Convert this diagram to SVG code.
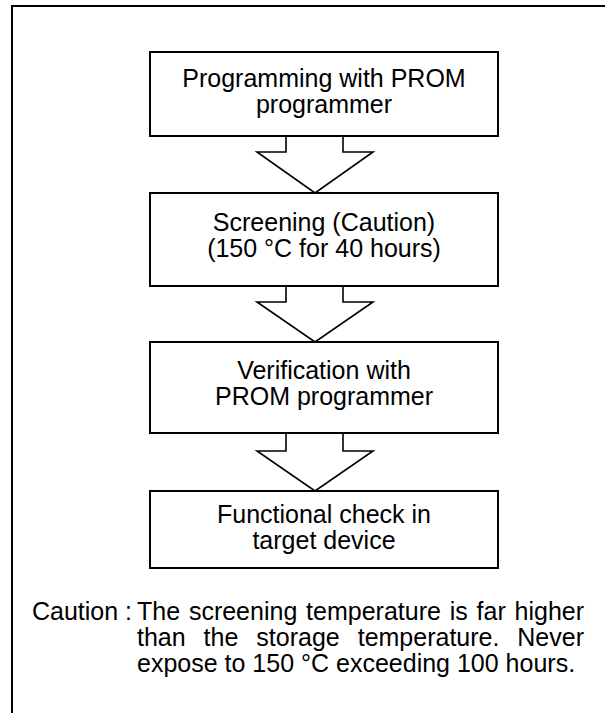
<svg xmlns="http://www.w3.org/2000/svg" width="605" height="713" viewBox="0 0 605 713">
<style>
.box{fill:#fff;stroke:#000;stroke-width:2}
.arr{fill:#fff;stroke:#000;stroke-width:1.6;stroke-linejoin:miter}
.t{font-family:"Liberation Sans",Arial,sans-serif;font-size:25px;fill:#000;text-anchor:middle}
.c{font-family:"Liberation Sans",Arial,sans-serif;font-size:25px;fill:#000}
</style>
<rect width="605" height="713" fill="#fff"/>
<g id="frame">
<path d="M12 713 V6 H605" fill="none" stroke="#000" stroke-width="2"/>
</g>
<g id="connectors">
<polyline class="arr" points="286,136 286,152 257,152 315,193 373,152 343,152 343,136"/>
<polyline class="arr" points="286,286 286,302 257,302 315,342 373,302 343,302 343,286"/>
<polyline class="arr" points="286,433 286,451 257,451 315,491 373,451 343,451 343,433"/>
</g>
<g id="node1">
<rect class="box" x="150" y="52" width="348" height="84"/>
<text class="t" x="324" y="87">Programming with PROM</text>
<text class="t" x="324" y="113">programmer</text>
</g>
<g id="node2">
<rect class="box" x="150" y="193" width="348" height="93"/>
<text class="t" x="324" y="231">Screening (Caution)</text>
<text class="t" x="324" y="257">(150 °C for 40 hours)</text>
</g>
<g id="node3">
<rect class="box" x="150" y="342" width="348" height="91"/>
<text class="t" x="324" y="379">Verification with</text>
<text class="t" x="324" y="405">PROM programmer</text>
</g>
<g id="node4">
<rect class="box" x="150" y="491" width="348" height="77"/>
<text class="t" x="324" y="523">Functional check in</text>
<text class="t" x="324" y="549">target device</text>
</g>
<g id="caution">
<text class="c" x="32" y="620">Caution :</text>
<text class="c" y="620"><tspan x="137">The</tspan><tspan x="188.9">screening</tspan><tspan x="306.1">temperature</tspan><tspan x="449.7">is</tspan><tspan x="476.6">far</tspan><tspan x="514.6">higher</tspan></text>
<text class="c" y="646"><tspan x="137">than</tspan><tspan x="203.6">the</tspan><tspan x="256.3">storage</tspan><tspan x="357.7">temperature.</tspan><tspan x="517.3">Never</tspan></text>
<text class="c" x="137" y="672">expose to 150 °C exceeding 100 hours.</text>
</g>
</svg>
